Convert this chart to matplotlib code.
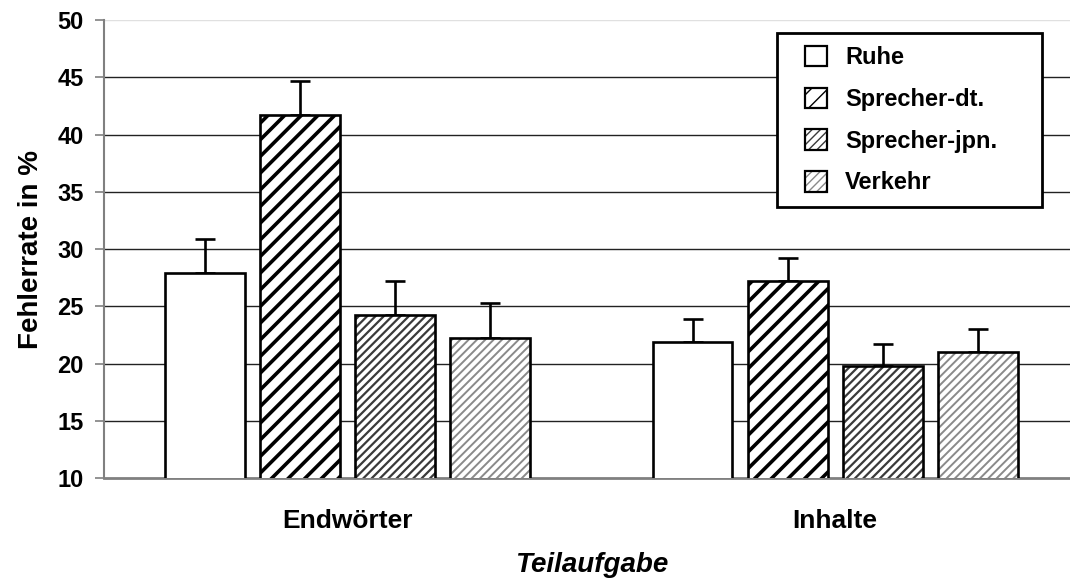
import numpy as np
import matplotlib
matplotlib.use("Agg")
import matplotlib.pyplot as plt
from matplotlib.patches import Rectangle
from matplotlib.legend_handler import HandlerTuple

plt.rcParams['font.family'] = ['Liberation Sans', 'DejaVu Sans']
plt.rcParams['font.weight'] = 'bold'

# data
categories = ['Endwörter', 'Inhalte']
series = ['Ruhe', 'Sprecher-dt.', 'Sprecher-jpn.', 'Verkehr']
values = {
    'Ruhe':          [27.9, 21.9],
    'Sprecher-dt.':  [41.7, 27.2],
    'Sprecher-jpn.': [24.2, 19.8],
    'Verkehr':       [22.2, 21.0],
}
errors = {
    'Ruhe':          [3.0, 2.0],
    'Sprecher-dt.':  [3.0, 2.0],
    'Sprecher-jpn.': [3.0, 1.9],
    'Verkehr':       [3.1, 2.0],
}
yticks = [10, 15, 20, 25, 30, 35, 40, 45, 50]

# style per series: hatch, hatch colour, hatch linewidth
styles = {
    'Ruhe':          ('', 'white', 1.0),
    'Sprecher-dt.':  ('//', 'black', 2.6),
    'Sprecher-jpn.': ('////', '#3a3a3a', 1.6),
    'Verkehr':       ('////', '#8a8a8a', 1.4),
}

fig = plt.figure(figsize=(10.70, 5.82), dpi=100)
ax = fig.add_axes([0.0972, 0.1787, 0.911, 0.7869])

x = np.arange(len(categories))
step = 0.195
width = 0.164
handles = []
for i, name in enumerate(series):
    pos = x + (i - 1.5) * step
    hatch, hcol, hlw = styles[name]
    with plt.rc_context({'hatch.linewidth': hlw}):
        ax.bar(pos, values[name], width, bottom=0, color='white',
               edgecolor=hcol, hatch=hatch, linewidth=0, zorder=3)
        h1 = Rectangle((0, 0), 1, 1, facecolor='white', edgecolor=hcol,
                       hatch=hatch, linewidth=0)
    ax.bar(pos, values[name], width, color='none', edgecolor='black',
           linewidth=1.9, zorder=4)
    yerr = [np.zeros(len(categories)), errors[name]]
    ax.errorbar(pos, values[name], yerr=yerr, fmt='none', ecolor='black',
                elinewidth=1.9, capsize=7.5, capthick=1.9, zorder=2)
    h2 = Rectangle((0, 0), 1, 1, facecolor='none', edgecolor='black',
                   linewidth=1.6)
    handles.append((h1, h2))

ax.set_ylim(10, 50)
ax.set_xlim(-0.5, 1.5)
ax.set_yticks(yticks)
ax.set_xticks(x)
ax.set_xticklabels(categories, fontsize=19, fontweight='bold')
ax.tick_params(axis='x', length=0, pad=22)
ax.tick_params(axis='y', labelsize=17, length=6.5, width=1.2, color='#808080',
               pad=8)

for yv in yticks[1:-1]:
    ax.axhline(yv, color='#222222', linewidth=1.0, zorder=1)
ax.axhline(50, color='#e0e0e0', linewidth=1.0, zorder=1)

for s in ['top', 'right']:
    ax.spines[s].set_visible(False)
ax.spines['left'].set_color('#808080')
ax.spines['left'].set_linewidth(1.5)
ax.spines['bottom'].set_color('#808080')
ax.spines['bottom'].set_linewidth(2.0)

ax.set_ylabel('Fehlerrate in %', fontsize=20, fontweight='bold', labelpad=10)
ax.set_xlabel('Teilaufgabe', fontsize=20, fontweight='bold', style='italic',
              labelpad=14)

# legend box drawn separately so it can be wider than its content
frame = Rectangle((777 / 1070, 1 - 207 / 582), 265 / 1070, 174 / 582,
                  transform=fig.transFigure, facecolor='white',
                  edgecolor='black', linewidth=2.0, zorder=9, clip_on=False)
ax.add_artist(frame)
leg = ax.legend(handles, series, handler_map={tuple: HandlerTuple(ndivide=1)},
                loc='upper left', bbox_to_anchor=(805 / 1070, 1 - 46 / 582),
                bbox_transform=fig.transFigure, borderaxespad=0, borderpad=0,
                frameon=False, prop={'size': 17, 'weight': 'bold'},
                handlelength=0.95, handleheight=0.95, handletextpad=0.75,
                labelspacing=0.78)
leg.set_zorder(10)

fig.savefig('out.png', dpi=100)
